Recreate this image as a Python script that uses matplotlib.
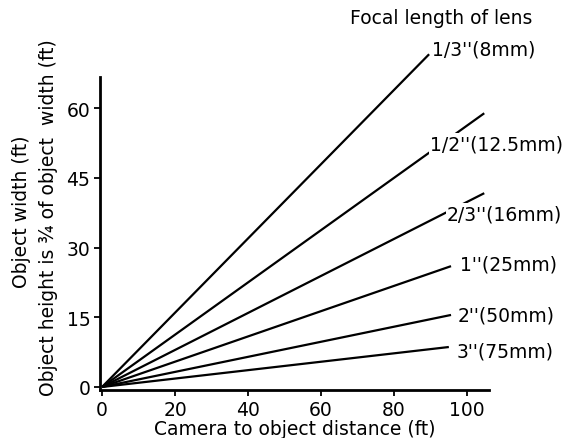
import matplotlib
matplotlib.use("Agg")
import matplotlib.pyplot as plt

plt.rcParams["font.family"] = ["DejaVu Sans"]

# lens labels and where each line ends (distance ft, width ft)
lens_labels = ["1/3''(8mm)", "1/2''(12.5mm)", "2/3''(16mm)",
               "1''(25mm)", "2''(50mm)", "3''(75mm)"]
end_distance = [89.6, 104.7, 104.7, 95.6, 95.6, 95.0]
end_width = [71.6, 58.9, 41.7, 26.0, 15.5, 8.6]

x_ticks = [0, 20, 40, 60, 80, 100]
y_ticks = [0, 15, 30, 45, 60]

W, H = 568, 439
fig = plt.figure(figsize=(W / 100, H / 100), dpi=100)
ax = fig.add_axes([100 / W, 1 - 391 / H, 389 / W, 313 / H])

for d, w in zip(end_distance, end_width):
    ax.plot([0, d], [0, w], color="black", lw=1.6, clip_on=False,
            solid_capstyle="butt")

ax.set_xlim(-0.55, 106)
ax.set_ylim(-0.65, 66.7)
ax.set_xticks(x_ticks)
ax.set_yticks(y_ticks)
ax.tick_params(labelsize=13.5, width=1.3, length=4, pad=3, color="black")
for s in ["top", "right"]:
    ax.spines[s].set_visible(False)
for s in ["left", "bottom"]:
    ax.spines[s].set_linewidth(2)

ax.set_xlabel("Camera to object distance (ft)", fontsize=13.5, labelpad=0)

# two-line y label
fig.text(22 / W, 1 - 212 / H, "Object width (ft)", rotation=90,
         ha="center", va="center", fontsize=13.5)
fig.text(49 / W, 1 - 218 / H, "Object height is \u00be of object  width (ft)",
         rotation=90, ha="center", va="center", fontsize=13.5)

fig.text(350 / W, 1 - 18 / H, "Focal length of lens", ha="left",
         va="center", fontsize=13.5)

# labels sit on a white patch so they break the lines like the original
label_pos = [(432, 50), (430, 145), (447, 215), (460, 265), (458, 316), (457, 352)]
for lab, (px, py) in zip(lens_labels, label_pos):
    fig.text(px / W, 1 - py / H, lab, ha="left", va="center", fontsize=13.5,
             bbox=dict(facecolor="white", edgecolor="none", pad=1))

fig.savefig("out.png", dpi=100)
